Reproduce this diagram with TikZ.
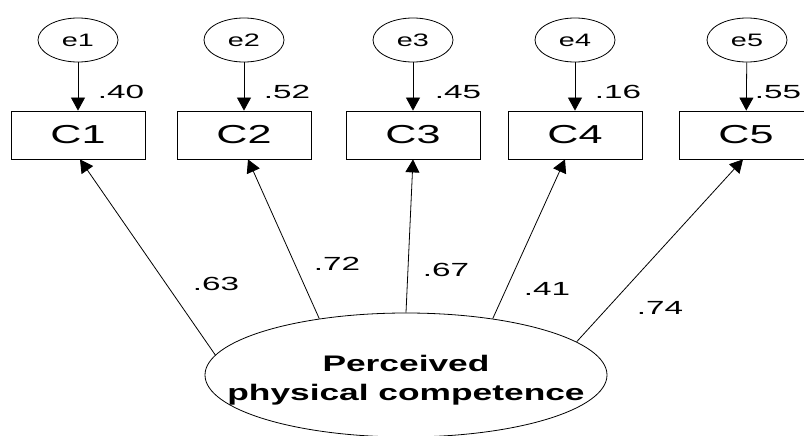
\documentclass[tikz,border=0pt]{standalone}
\usepackage{fontspec}
\setmainfont{Liberation Sans}
\usepackage{graphicx}
\usetikzlibrary{arrows.meta,shapes.geometric}
% horizontally widened text
\newcommand\widen[2]{\scalebox{#1}[1]{#2}}
\tikzset{
  errvar/.style={draw, ellipse, line width=0.8pt, minimum width=80pt, minimum height=44pt,
    inner sep=0pt, font=\fontsize{18}{20}\selectfont},
  obsvar/.style={draw, rectangle, line width=0.8pt, minimum width=134pt, minimum height=48pt,
    inner sep=0pt, font=\fontsize{26}{30}\selectfont},
  latvar/.style={draw, ellipse, line width=0.8pt, minimum width=402pt, minimum height=124pt,
    inner sep=0pt},
  coef/.style={inner sep=0pt, font=\fontsize{19}{22}\selectfont},
  lattext/.style={inner sep=0pt, anchor=base, font=\fontsize{22.5}{26}\selectfont\bfseries},
  regpath/.style={draw, line width=0.8pt, -{Triangle[length=13pt,width=14pt]}},
}
\begin{document}
\begin{tikzpicture}[x=1pt,y=-1pt]
\clip (0,0) rectangle (804,436);

% error terms
\node[errvar] (e1) at (78,40)  {\widen{1.6}{e1}};
\node[errvar] (e2) at (244,40) {\widen{1.6}{e2}};
\node[errvar] (e3) at (413,40) {\widen{1.6}{e3}};
\node[errvar] (e4) at (575,40) {\widen{1.6}{e4}};
\node[errvar] (e5) at (747,40) {\widen{1.6}{e5}};

% observed indicators
\node[obsvar] (C1) at (78,135)  {\widen{1.66}{C1}};
\node[obsvar] (C2) at (244,135) {\widen{1.66}{C2}};
\node[obsvar] (C3) at (413,135) {\widen{1.66}{C3}};
\node[obsvar] (C4) at (575,135) {\widen{1.66}{C4}};
\node[obsvar] (C5) at (746,135) {\widen{1.66}{C5}};

% latent factor
\node[latvar] (F) at (406,375) {};
\node[lattext] (F1) at (406,371) {\widen{1.57}{Perceived}};
\node[lattext] (F2) at (406,400) {\widen{1.57}{physical competence}};

% error paths
\draw[regpath] (e1) -- (C1);
\draw[regpath] (e2) -- (C2);
\draw[regpath] (e3) -- (C3);
\draw[regpath] (e4) -- (C4);
\draw[regpath] (e5) -- (C5);

% factor loadings
\draw[regpath] (F.174) -- ([xshift=2pt]C1.south);
\draw[regpath] (F.147) -- ([xshift=4pt]C2.south);
\draw[regpath] (F.90)  -- (C3.south);
\draw[regpath] (F.33)  -- ([xshift=-10pt]C4.south);
\draw[regpath] (F.11)  -- ([xshift=-3pt]C5.south);

% coefficients
\node[coef] (r1) at (121,92) {\widen{1.75}{.40}};
\node[coef] (r2) at (287,92) {\widen{1.75}{.52}};
\node[coef] (r3) at (458,92) {\widen{1.75}{.45}};
\node[coef] (r4) at (618,92) {\widen{1.75}{.16}};
\node[coef] (r5) at (778,92) {\widen{1.75}{.55}};

\node[coef] (l1) at (216,284) {\widen{1.75}{.63}};
\node[coef] (l2) at (337,264) {\widen{1.75}{.72}};
\node[coef] (l3) at (446,270) {\widen{1.75}{.67}};
\node[coef] (l4) at (547,289) {\widen{1.75}{.41}};
\node[coef] (l5) at (660,308) {\widen{1.75}{.74}};
\end{tikzpicture}
\end{document}
